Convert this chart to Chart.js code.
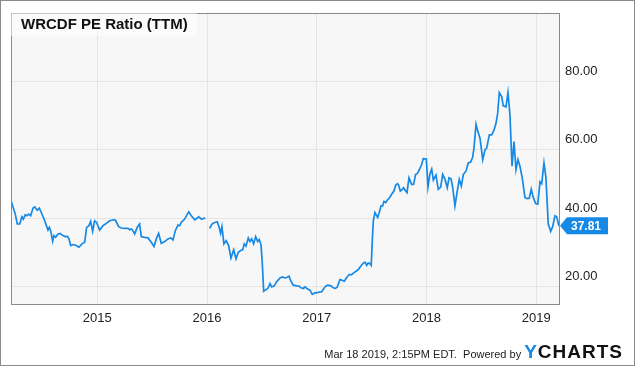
<!DOCTYPE html>
<html>
<head>
<meta charset="utf-8">
<script src="https://cdn.jsdelivr.net/npm/chart.js@4.4.0/dist/chart.umd.min.js"></script>
<style>
  html, body { margin:0; padding:0; background:#fff; }
  #wrap { position:relative; width:635px; height:366px; overflow:hidden; font-family:"Liberation Sans", Arial, sans-serif; }
  #c { position:absolute; left:0; top:0; }
  #frame { position:absolute; left:0; top:0; width:635px; height:366px; box-sizing:border-box; border:1px solid #8a8a8a; pointer-events:none; }
  #title { position:absolute; left:11px; top:11px; width:186px; height:25px; background:rgba(255,255,255,0.5); font-weight:bold; font-size:15px; line-height:25px; color:#111; padding-left:10px; box-sizing:border-box; white-space:nowrap; }
  #footer { position:absolute; right:12px; top:341px; display:flex; align-items:baseline; white-space:nowrap; }
  #footer .t { font-size:11px; color:#222; }
  #footer .logo { font-size:19px; font-weight:bold; letter-spacing:1px; color:#111; margin-left:3px; }
  #footer .logo .y { color:#1589e5; }
</style>
</head>
<body>
<div id="wrap">
  <canvas id="c" width="635" height="366"></canvas>
  <div id="title">WRCDF PE Ratio (TTM)</div>
  <div id="footer"><span class="t">Mar 18 2019, 2:15PM EDT.&nbsp; Powered by</span><span class="logo"><span class="y">Y</span>CHARTS</span></div>
  <div id="frame"></div>
</div>
<script>
const years = [
2014.214,2014.253,2014.271,2014.293,2014.314,2014.326,2014.344,2014.359,2014.375,2014.393,
2014.414,2014.430,2014.453,2014.472,2014.490,2014.521,2014.551,2014.563,2014.575,2014.594,
2014.605,2014.621,2014.642,2014.660,2014.687,2014.708,2014.727,2014.742,2014.758,2014.779,
2014.809,2014.833,2014.861,2014.885,2014.903,2014.924,2014.940,2014.958,2014.976,2014.994,
2015.022,2015.052,2015.082,2015.113,2015.152,2015.164,2015.195,2015.219,2015.250,2015.280,
2015.295,2015.310,2015.325,2015.341,2015.364,2015.386,2015.401,2015.432,2015.462,2015.492,
2015.517,2015.538,2015.559,2015.583,2015.614,2015.644,2015.669,2015.690,2015.711,2015.735,
2015.751,2015.765,2015.796,2015.833,2015.857,2015.888,2015.906,2015.925,2015.948,2015.984,
2016.004,
2016.024,2016.045,2016.070,2016.093,2016.109,2016.124,2016.136,2016.154,2016.175,2016.197,
2016.218,2016.243,2016.264,2016.285,2016.307,2016.325,2016.339,2016.355,2016.376,2016.391,
2016.407,2016.425,2016.443,2016.462,2016.476,2016.492,2016.503,2016.516,2016.544,2016.558,
2016.574,2016.589,2016.613,2016.633,2016.665,2016.686,2016.710,2016.726,2016.747,2016.765,
2016.786,2016.817,2016.838,2016.856,2016.877,2016.892,2016.917,2016.938,2016.959,2016.984,
2017.014,2017.045,2017.075,2017.099,2017.129,2017.150,2017.166,2017.185,2017.211,2017.230,
2017.251,2017.272,2017.296,2017.318,2017.339,2017.357,2017.378,2017.400,2017.424,2017.439,
2017.455,2017.469,2017.485,2017.496,2017.506,2017.515,2017.530,2017.546,2017.555,2017.569,
2017.585,2017.600,2017.612,2017.628,2017.641,2017.660,2017.682,2017.703,2017.720,2017.735,
2017.746,2017.761,2017.780,2017.791,2017.810,2017.822,2017.840,2017.852,2017.864,2017.882,
2017.900,2017.917,2017.934,2017.956,2017.970,2017.998,2018.013,2018.031,2018.047,2018.062,
2018.086,2018.107,2018.129,2018.147,2018.168,2018.189,2018.205,2018.223,2018.238,2018.259,
2018.280,2018.298,2018.317,2018.335,2018.359,2018.380,2018.402,2018.420,2018.432,2018.451,
2018.466,2018.487,2018.512,2018.533,2018.548,2018.572,2018.594,2018.615,2018.633,2018.648,
2018.663,2018.685,2018.699,2018.724,2018.742,2018.760,2018.779,2018.797,2018.815,2018.833,
2018.851,2018.872,2018.897,2018.918,2018.936,2018.954,2018.973,2018.994,2019.013,2019.034,
2019.049,2019.070,2019.088,2019.109,2019.131,2019.149,2019.170,2019.186,2019.204,2019.213
];
const peRatio = [
45.2,41.23,38.34,38.34,40.45,39.79,41.03,40.74,41.23,40.74,
42.97,43.34,42.39,42.97,41.70,39.29,36.60,37.36,36.40,33.31,
34.95,34.46,35.45,35.62,34.95,34.67,34.75,34.00,32.06,32.35,
32.06,31.57,32.55,33.02,37.36,37.85,39.09,36.20,39.29,38.80,
36.60,37.85,38.51,39.29,39.58,39.50,37.56,37.18,37.07,37.07,
36.69,36.89,36.40,35.45,37.36,38.34,34.67,34.46,34.29,33.02,
31.77,34.00,35.62,32.73,33.22,34.00,34.29,33.71,36.40,38.05,
37.85,38.80,39.79,41.90,40.74,39.58,39.96,40.45,39.79,40.07,
null,
37.07,38.34,38.80,39.00,37.56,35.62,37.56,32.55,33.51,32.06,
28.39,30.82,28.21,30.12,30.61,30.82,32.55,31.86,34.29,33.22,
34.00,32.55,34.67,33.22,33.80,32.26,27.23,18.75,19.33,19.71,
20.98,20.00,20.29,21.44,22.60,22.89,22.60,22.72,23.09,21.65,
20.49,20.29,20.20,19.71,19.53,20.00,19.33,19.04,17.80,18.26,
18.38,18.55,20.00,20.49,20.29,19.71,19.53,19.82,22.14,21.94,
21.65,22.72,23.59,23.59,24.16,24.54,25.03,25.99,26.94,27.23,
26.28,26.94,26.77,26.28,33.51,39.29,41.70,40.74,40.25,41.70,
43.63,43.63,44.88,44.59,45.28,45.86,47.02,47.97,49.71,50.09,
49.71,47.97,48.47,48.93,47.97,47.48,51.82,50.87,49.91,49.91,
52.80,53.09,54.25,55.70,57.43,57.32,49.13,53.04,54.40,51.16,
52.60,48.47,49.13,52.80,51.36,48.93,51.82,51.53,49.13,43.63,
47.97,51.36,49.42,52.80,53.76,56.16,56.45,57.81,60.50,67.44,
65.53,63.39,57.14,60.04,60.50,64.38,64.38,65.82,67.73,70.63,
76.70,75.46,72.85,72.56,76.70,70.16,55.21,62.44,54.25,57.14,
55.21,51.82,46.03,45.75,45.86,48.47,46.03,44.30,44.13,50.66,
50.09,56.16,51.82,38.34,36.20,37.56,40.74,40.45,38.05,37.81
];
const xTicks = [2015, 2016, 2017, 2018, 2019];
const yTicks = [20, 40, 60, 80];
const xMin = 2014.214, xMax = 2019.216;
const yMin = 14.7, yMax = 100;

const BLUE = '#1589e5';
const FONT = '"Liberation Sans", Arial, sans-serif';

const framePlugin = {
  id: 'frame',
  beforeDraw(chart) {
    const ctx = chart.ctx, a = chart.chartArea;
    ctx.save();
    ctx.fillStyle = '#ffffff';
    ctx.fillRect(0, 0, chart.width, chart.height);
    ctx.fillStyle = '#f7f7f7';
    ctx.fillRect(a.left, a.top, a.right - a.left, a.bottom - a.top);
    ctx.restore();
  },
  afterDraw(chart) {
    const ctx = chart.ctx, a = chart.chartArea;
    ctx.save();
    ctx.strokeStyle = '#8a8a8a';
    ctx.lineWidth = 1;
    ctx.strokeRect(Math.round(a.left) + 0.5, Math.round(a.top) + 0.5,
                   Math.round(a.right - a.left) - 1, Math.round(a.bottom - a.top) - 1);
    // last value badge
    const last = peRatio[peRatio.length - 1];
    const y = chart.scales.y.getPixelForValue(last);
    const x0 = a.right;
    ctx.fillStyle = BLUE;
    ctx.beginPath();
    ctx.moveTo(x0, y);
    ctx.lineTo(x0 + 7, y - 8.5);
    ctx.lineTo(x0 + 48, y - 8.5);
    ctx.lineTo(x0 + 48, y + 8.5);
    ctx.lineTo(x0 + 7, y + 8.5);
    ctx.closePath();
    ctx.fill();
    ctx.fillStyle = '#ffffff';
    ctx.font = 'bold 12px ' + FONT;
    ctx.textAlign = 'left';
    ctx.textBaseline = 'middle';
    ctx.fillText(last.toFixed(2), x0 + 11, y + 0.5);
    ctx.restore();
  }
};

new Chart(document.getElementById('c'), {
  type: 'line',
  data: {
    datasets: [{
      data: years.map((x, i) => ({ x: x, y: peRatio[i] })),
      borderColor: BLUE,
      borderWidth: 1.7,
      pointRadius: 0,
      tension: 0,
      spanGaps: false,
      fill: false
    }]
  },
  options: {
    responsive: false,
    animation: false,
    devicePixelRatio: 1,
    layout: { padding: { left: 11, top: 10, right: 0, bottom: 0 } },
    plugins: { legend: { display: false }, tooltip: { enabled: false }, title: { display: false } },
    scales: {
      x: {
        type: 'linear', min: xMin, max: xMax,
        afterBuildTicks: s => { s.ticks = xTicks.map(v => ({ value: v })); },
        afterFit: s => { s.height = 61; },
        grid: { color: '#e5e5e5', drawTicks: false },
        border: { display: false },
        ticks: { padding: 6, color: '#222', font: { size: 13, family: FONT }, maxRotation: 0, autoSkip: false, callback: v => String(v) }
      },
      y: {
        type: 'linear', position: 'right', min: yMin, max: yMax,
        afterBuildTicks: s => { s.ticks = yTicks.map(v => ({ value: v })); },
        afterFit: s => { s.width = 75; },
        grid: { color: '#e5e5e5', drawTicks: false },
        border: { display: false },
        ticks: { padding: 5, labelOffset: -10, color: '#222', font: { size: 13, family: FONT }, callback: v => Number(v).toFixed(2) }
      }
    }
  },
  plugins: [framePlugin]
});
</script>
</body>
</html>
